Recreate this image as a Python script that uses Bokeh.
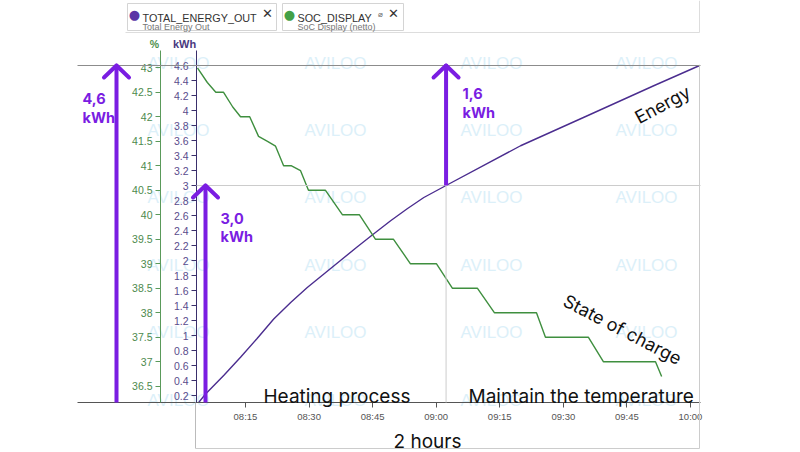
import pandas as pd
from bokeh.plotting import figure
from bokeh.models import (Range1d, LinearAxis, FixedTicker, CustomJSTickFormatter,
                          DatetimeTickFormatter, Arrow, Label, LabelSet,
                          ColumnDataSource)
from bokeh.embed import file_html
from bokeh.resources import INLINE
from bokeh.core.properties import value

# ---------------- data ----------------
DAY = "2024-01-01 "
energy_time = ["08:04:00", "08:05:35", "08:09:55", "08:13:50", "08:17:45", "08:21:40",
               "08:25:40", "08:29:35", "08:33:30", "08:37:25", "08:41:20", "08:44:55",
               "08:49:15", "08:53:10", "08:57:05", "09:02:20", "09:19:55", "09:35:40",
               "09:51:20", "10:02:10"]
energy_kwh = [0.11, 0.22, 0.47, 0.71, 0.96, 1.22, 1.44, 1.64, 1.82, 2.00, 2.18, 2.34,
              2.53, 2.69, 2.84, 3.00, 3.53, 3.93, 4.33, 4.60]

soc_time = ["08:03:40", "08:06:00", "08:08:00", "08:09:50", "08:12:00", "08:13:50",
            "08:16:00", "08:18:05", "08:20:12", "08:22:06", "08:24:00", "08:25:52",
            "08:28:00", "08:29:52", "08:33:53", "08:37:54", "08:41:54", "08:45:42",
            "08:49:56", "08:53:56", "09:00:05", "09:03:51", "09:09:45", "09:13:46",
            "09:23:40", "09:25:47", "09:35:56", "09:39:29", "09:51:45", "09:53:12"]
soc_pct = [43.0, 42.7, 42.5, 42.5, 42.2, 42.0, 42.0, 41.6, 41.5, 41.4, 41.0, 41.0,
           40.9, 40.5, 40.5, 40.0, 40.0, 39.5, 39.5, 39.0, 39.0, 38.5, 38.5, 38.0,
           38.0, 37.5, 37.5, 37.0, 37.0, 36.7]

kwh_ticks = [round(0.2 * i, 1) for i in range(1, 24)]
pct_ticks = [36.5, 37, 37.5, 38, 38.5, 39, 39.5, 40, 40.5, 41, 41.5, 42, 42.5, 43]
time_ticks = ["08:15", "08:30", "08:45", "09:00", "09:15", "09:30", "09:45", "10:00"]

split_time = "09:02:20"      # end of heating phase
energy_total = 4.6           # energy at the end
energy_split = 3.0           # energy at end of heating
energy_rest = round(energy_total - energy_split, 1)

# ---------------- helpers (page pixel -> data, for annotation placement) -------------
def ms(t):
    return pd.Timestamp(DAY + t).value / 1e6

BASE = ms("08:00:00")
PX0800, PXMIN = 181.4, 4.238

def X(px):
    return BASE + (px - PX0800) / PXMIN * 60000.0

def XP(t):
    return (ms(t) - BASE) / 60000.0 * PXMIN + PX0800

def Y(py):
    return 0.2 + (395.0 - py) / 75.0

def P(py):
    return 43.0 - (py - 67.3) / 49.0

def fmt(v):
    return f"{v:.1f}".replace(".", ",")

PURPLE_ANN = "#7a1de2"
LINE_PURPLE = "#4b2d8f"
LINE_GREEN = "#3f8f3f"

W, H = 800, 452
p = figure(width=W, height=H, x_axis_type="datetime", output_backend="svg",
           toolbar_location=None, title=None,
           x_range=Range1d(X(0), X(W)), y_range=Range1d(Y(H), Y(0)),
           min_border_left=0, min_border_right=0, min_border_top=0,
           min_border_bottom=0)
p.outline_line_color = None
p.xgrid.visible = False
p.ygrid.visible = False
p.background_fill_color = "white"
p.border_fill_color = "white"
p.extra_y_ranges = {"pct": Range1d(P(H), P(0))}

numfmt = CustomJSTickFormatter(code="return Number(tick.toFixed(2)).toString();")

# kWh axis (primary)
ya = p.yaxis[0]
ya.fixed_location = X(196)
ya.bounds = (Y(402), Y(50))
ya.ticker = FixedTicker(ticks=kwh_ticks)
ya.formatter = numfmt
ya.axis_line_color = "#3a2f6b"
ya.major_tick_line_color = "#3a2f6b"
ya.major_tick_out = 5
ya.major_tick_in = 0
ya.minor_tick_line_color = None
ya.major_label_text_color = "#5a4c8c"
ya.major_label_text_font = "Liberation Sans"
ya.major_label_text_font_size = "10.5px"
ya.major_label_standoff = 3

# % axis
pa = LinearAxis(y_range_name="pct", ticker=FixedTicker(ticks=pct_ticks), formatter=numfmt,
                fixed_location=X(160), bounds=(P(402), P(50)))
pa.axis_line_color = "#5a9a5a"
pa.major_tick_line_color = "#5a9a5a"
pa.major_tick_out = 5
pa.major_tick_in = 0
pa.minor_tick_line_color = None
pa.major_label_text_color = "#4d8a4d"
pa.major_label_text_font = "Liberation Sans"
pa.major_label_text_font_size = "10.5px"
pa.major_label_standoff = 3
p.add_layout(pa, "left")

# time axis
xa = p.xaxis[0]
xa.fixed_location = Y(402)
xa.bounds = (X(77), X(700))
xa.ticker = FixedTicker(ticks=[ms(t + ":00") for t in time_ticks])
xa.formatter = DatetimeTickFormatter(seconds="%H:%M", minsec="%H:%M", minutes="%H:%M",
                                     hourmin="%H:%M", hours="%H:%M")
xa.axis_line_color = "#555555"
xa.major_tick_line_color = "#555555"
xa.major_tick_out = 5
xa.major_tick_in = 0
xa.minor_tick_line_color = None
xa.major_label_text_color = "#555555"
xa.major_label_text_font = "Liberation Sans"
xa.major_label_text_font_size = "9.5px"
xa.major_label_standoff = 3

# watermarks
wm_x, wm_y = [], []
for cx in [125, 282, 438, 593]:
    for cy in [63, 130, 197, 265, 332, 400]:
        wm_x.append(X(cx + 22))
        wm_y.append(Y(cy))
wm = LabelSet(x="x", y="y", text="t", level="underlay",
              source=ColumnDataSource(dict(x=wm_x, y=wm_y, t=["AVILOO"] * len(wm_x))),
              text_color="#dcf0f9", text_font=value("Liberation Sans"),
              text_font_size="17px", text_baseline="middle")
p.add_layout(wm)

# guide lines
def seg(x0, y0, x1, y1, color, width=1):
    p.add_layout(Arrow(end=None, x_start=x0, y_start=y0, x_end=x1, y_end=y1,
                       line_color=color, line_width=width))

x_end = X(700)
seg(X(77), energy_total, x_end, energy_total, "#8c8c8c")
seg(X(196), energy_split, x_end, energy_split, "#cccccc")
seg(ms(split_time), energy_split, ms(split_time), Y(402), "#cccccc")
seg(X(699), energy_total, X(699), Y(448), "#cccccc")
seg(X(195), Y(402), X(195), Y(448), "#bbbbbb")
seg(X(195), Y(448), X(699), Y(448), "#cccccc")
seg(X(125), Y(32), X(699), Y(32), "#dddddd")
seg(X(699), Y(0), X(699), Y(32), "#dddddd")

# legend chips (drawn as plain boxes)
p.quad(left=[X(127), X(282)], right=[X(276), X(403)], top=[Y(3), Y(3)],
       bottom=[Y(30), Y(30)], fill_color="white", line_color="#d4d4d4", line_width=1)

# data lines
p.line([ms(t) for t in energy_time], energy_kwh, line_color=LINE_PURPLE, line_width=1.4)
p.line([ms(t) for t in soc_time], soc_pct, y_range_name="pct", line_color=LINE_GREEN,
       line_width=1.4)

# purple arrows
def up_arrow(xpx, y_from, y_to):
    x = X(xpx)
    seg(x, y_from, x, y_to, PURPLE_ANN, 4)
    dx = 12.5 / PXMIN * 60000.0
    dy = 12.0 / 75.0
    for s in (-1, 1):
        p.add_layout(Arrow(end=None, x_start=x, y_start=y_to, x_end=x + s * dx,
                           y_end=y_to - dy, line_color=PURPLE_ANN, line_width=4,
                           line_cap="round"))

up_arrow(116, Y(402), energy_total)
up_arrow(205, Y(402), energy_split)
up_arrow(XP(split_time), energy_split, energy_total)

def lab(text, xpx, ypx, size, color="#111111", font="Inter", style="normal",
        align="left", baseline="alphabetic", angle=0.0):
    p.add_layout(Label(x=X(xpx), y=Y(ypx), text=text, text_font_size=size,
                       text_color=color, text_font=font, text_font_style=style,
                       text_align=align, text_baseline=baseline, angle=angle))

for txt, xx, yy in [(fmt(energy_total), 82, 98), ("kWh", 82, 117),
                    (fmt(energy_split), 220, 218), ("kWh", 220, 236),
                    (fmt(energy_rest), 462, 93), ("kWh", 462, 112)]:
    lab(txt, xx, yy, "14.5px", PURPLE_ANN, style="bold")

lab("Energy", 662, 104, "18px", align="center", baseline="middle", angle=0.49)
lab("State of charge", 622, 329, "18px", align="center", baseline="middle", angle=-0.48)
lab("Heating process", 263, 396, "19px")
lab("Maintain the temperature", 468, 396, "19px")
lab("2 hours", 427, 441, "19px", align="center")

# axis unit labels
lab("%", 154, 43, "10.5px", "#4d8f4d", font="Liberation Sans", style="bold",
    align="center", baseline="middle")
lab("kWh", 184, 43, "11px", "#4a3a80", font="Liberation Sans", style="bold",
    align="center", baseline="middle")

# legend texts
lab("●", 134, 14, "13px", "#5b35a6", font="DejaVu Sans", align="center", baseline="middle")
lab("TOTAL_ENERGY_OUT", 142, 17, "10.8px", "#333333", font="Liberation Sans")
lab("Total Energy Out", 142, 26.5, "9px", "#777777", font="Liberation Sans")
lab("✕", 267, 12.5, "13px", "#333333", font="DejaVu Sans", style="bold",
    align="center", baseline="middle")
lab("●", 289, 14, "13px", "#43a047", font="DejaVu Sans", align="center", baseline="middle")
lab("SOC_DISPLAY", 297, 17, "10.8px", "#333333", font="Liberation Sans")
lab("⌀", 380, 14, "8px", "#666666", font="DejaVu Sans", align="center", baseline="middle")
lab("SoC Display (netto)", 297, 26.5, "9px", "#777777", font="Liberation Sans")
lab("✕", 393, 12.5, "13px", "#333333", font="DejaVu Sans", style="bold",
    align="center", baseline="middle")

open("out.html", "w").write(file_html(p, INLINE))
